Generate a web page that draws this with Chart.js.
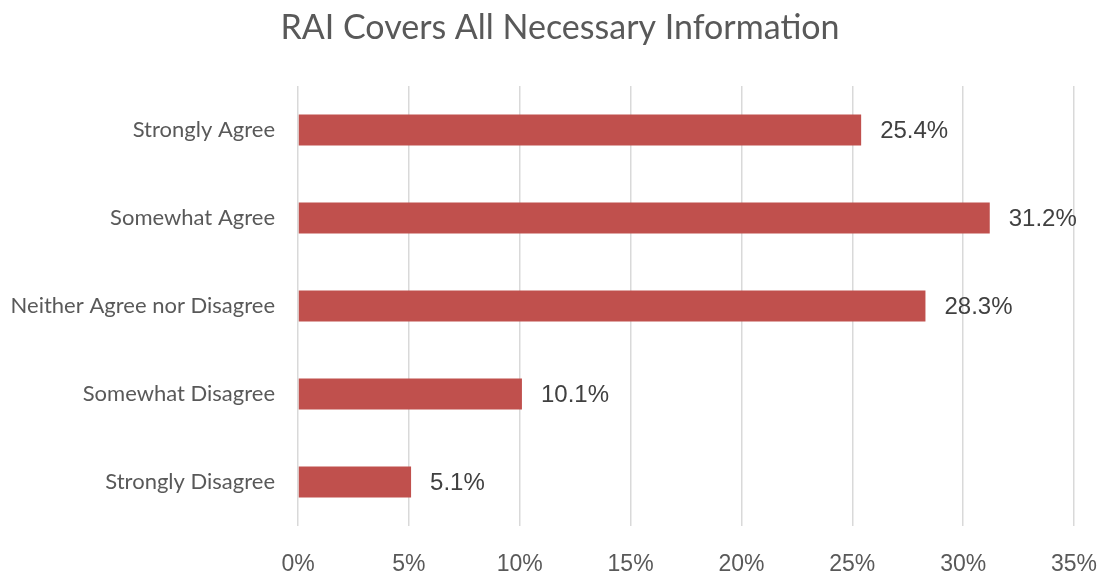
<!DOCTYPE html>
<html><head><meta charset="utf-8">
<script src="https://cdn.jsdelivr.net/npm/chart.js@4/dist/chart.umd.min.js"></script>
<style>html,body{margin:0;padding:0;background:#fff}#w{width:1105px;height:577px}</style>
</head><body><div id="w"><canvas id="c"></canvas></div>
<script>
const categories = ["Strongly Agree","Somewhat Agree","Neither Agree nor Disagree","Somewhat Disagree","Strongly Disagree"];
const values = [25.4, 31.2, 28.3, 10.1, 5.1];
const chartTitle = "RAI Covers All Necessary Information";

const dataLabels = {
  id: 'dataLabels',
  afterDatasetsDraw(chart) {
    const ctx = chart.ctx;
    const meta = chart.getDatasetMeta(0);
    ctx.save();
    ctx.font = '24px "Liberation Sans", Arial, sans-serif';
    ctx.fillStyle = '#404040';
    ctx.textAlign = 'left';
    ctx.textBaseline = 'middle';
    meta.data.forEach((bar, i) => {
      ctx.fillText(values[i].toFixed(1) + '%', bar.x + 19, bar.y + 1);
    });
    ctx.restore();
  }
};

const titlePlugin = {
  id: 'customTitle',
  afterDraw(chart) {
    const ctx = chart.ctx;
    ctx.save();
    ctx.font = '34px Lato, "Open Sans", sans-serif';
    ctx.fillStyle = '#595959';
    ctx.textAlign = 'center';
    ctx.textBaseline = 'middle';
    ctx.fillText(chartTitle, chart.width / 2 + 7.5, 28);
    ctx.restore();
  }
};

new Chart(document.getElementById('c'), {
  type: 'bar',
  data: { labels: categories, datasets: [{ data: values, backgroundColor: '#C0504D', barPercentage: 0.352, categoryPercentage: 1 }] },
  options: {
    indexAxis: 'y', responsive: true, maintainAspectRatio: false, animation: false,
    layout: { padding: { left: 0, right: 31, top: 86, bottom: 0 } },
    plugins: {
      legend: { display: false }, tooltip: { enabled: false }, title: { display: false }
    },
    scales: {
      x: { min: 0, max: 35, ticks: { stepSize: 5, callback: v => v + '%', color: '#595959', padding: 25, maxRotation: 0,
             font: { family: '"Liberation Sans", Arial, sans-serif', size: 23 } },
           grid: { color: '#d9d9d9', lineWidth: 1.5, drawTicks: false }, border: { display: false },
           afterFit(s) { s.height = 51; s.paddingRight = 0; s.paddingLeft = 0; } },
      y: { ticks: { color: '#595959', padding: 15, font: { family: 'Lato, "Open Sans", sans-serif', size: 22 } },
           grid: { display: false }, border: { display: false },
           afterFit(s) { s.width = 298; s.paddingTop = 0; s.paddingBottom = 0; } }
    }
  },
  plugins: [dataLabels, titlePlugin]
});
</script></body></html>
